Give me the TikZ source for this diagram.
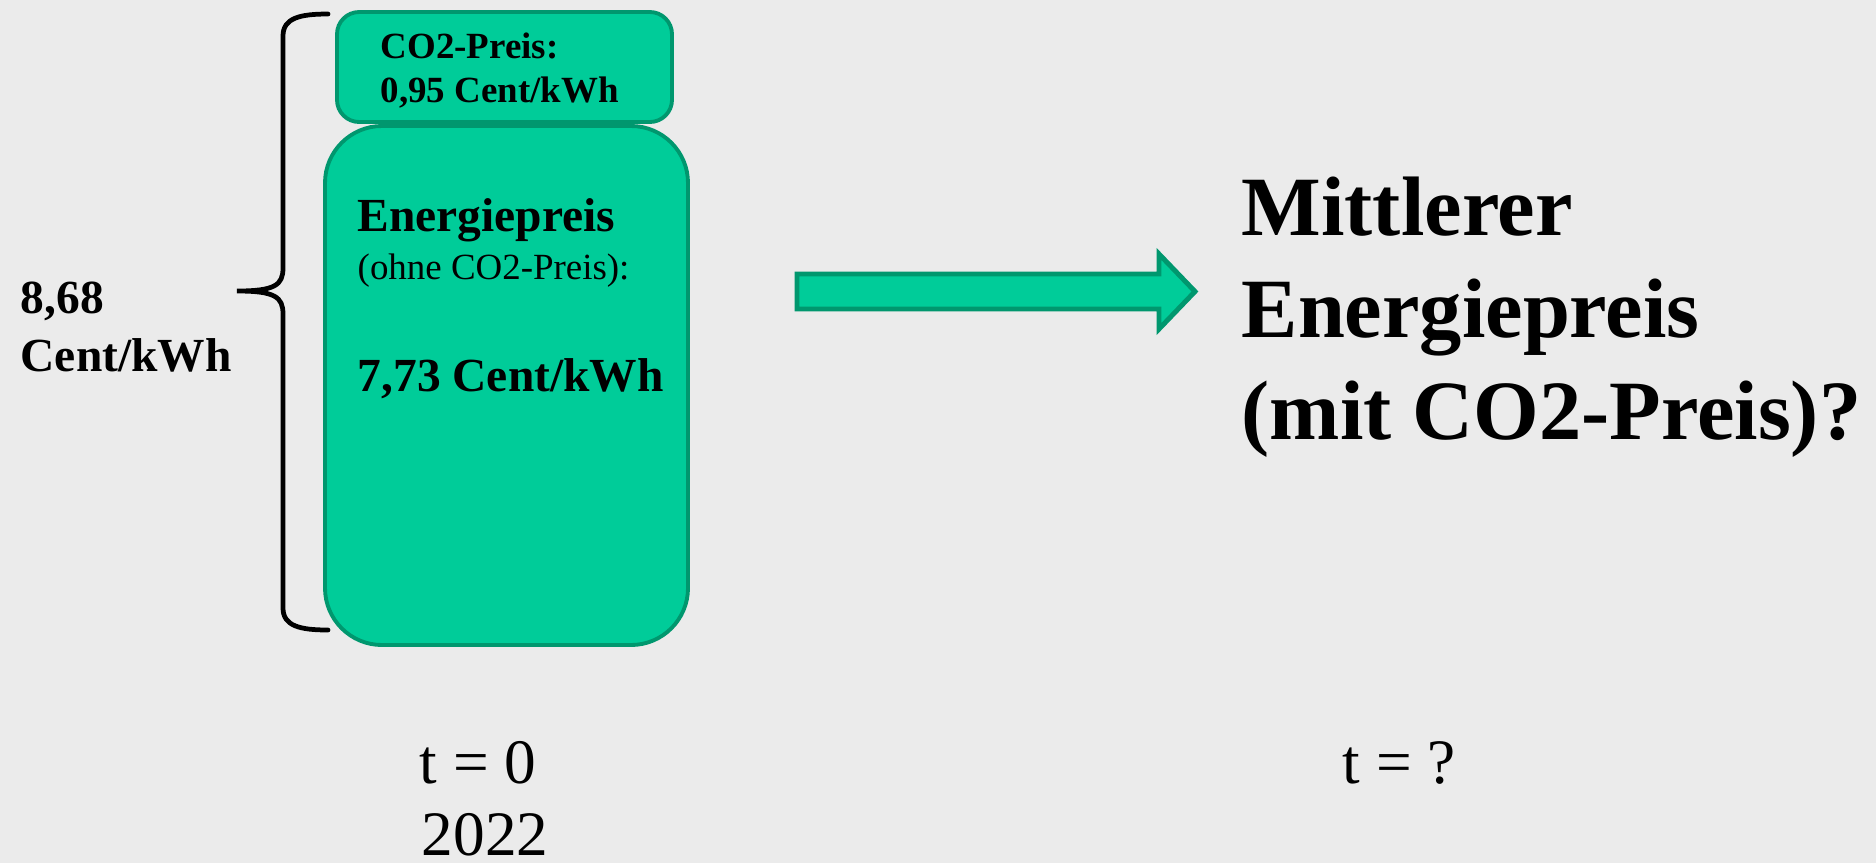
\documentclass[tikz,border=0pt]{standalone}
\usepackage{fontspec}
\setmainfont{Liberation Serif}
\definecolor{hintergrund}{HTML}{EBEBEB}
\definecolor{gruen}{HTML}{00CC99}
\definecolor{gruenrand}{HTML}{00976E}
\tikzset{
  kasten/.style={fill=gruen, draw=gruenrand, line width=1.1pt},
  pfeil/.style={fill=gruen, draw=gruenrand, line width=1.4pt, line join=miter},
  klammer/.style={draw=black, line width=1.35pt, line cap=round},
  txt/.style={anchor=base west, inner sep=0pt, text=black},
  klein/.style={txt, font=\fontsize{10.5}{12.5}\selectfont\bfseries},
  kleinr/.style={txt, font=\fontsize{10.5}{12.5}\selectfont},
  mittel/.style={txt, font=\fontsize{13.5}{16}\selectfont\bfseries},
  gross/.style={txt, font=\fontsize{24}{29}\selectfont\bfseries},
  zeit/.style={txt, font=\fontsize{18}{21}\selectfont},
}
\begin{document}
\begin{tikzpicture}[x=0.01cm, y=-0.01cm]
  \fill[hintergrund] (0,0) rectangle (1876,863);
  \useasboundingbox (0,0) rectangle (1876,863);
  % Kaesten
  \draw[kasten, rounded corners=6.3pt] (337,12) rectangle (672,122);
  \draw[kasten, rounded corners=16.2pt] (325,126) rectangle (688,645);
  % Klammer
  \draw[klammer] (328,14) .. controls (300,14) and (283,18) .. (283,36)
    -- (283,268) .. controls (283,285) and (275,291) .. (237,291)
    .. controls (275,291) and (283,297) .. (283,314)
    -- (283,608) .. controls (283,626) and (300,630) .. (328,630);
  % Pfeil
  \draw[pfeil] (797,274) -- (1159,274) -- (1159,254) -- (1195,291.5)
    -- (1159,329) -- (1159,309) -- (797,309) -- cycle;
  % Texte
  \node[mittel] (summe1) at (20,313) {8,68};
  \node[mittel] (summe2) at (20,371) {Cent/kWh};
  \node[klein] (co2a) at (380,58) {CO2-Preis:};
  \node[klein] (co2b) at (380,102) {0,95 Cent/kWh};
  \node[mittel] (ep1) at (357,231) {Energiepreis};
  \node[kleinr] (ep2) at (357,279) {(ohne CO2-Preis):};
  \node[mittel] (ep3) at (357,391) {7,73 Cent/kWh};
  \node[gross] (frage1) at (1241,235) {Mittlerer};
  \node[gross] (frage2) at (1241,337) {Energiepreis};
  \node[gross] (frage3) at (1241,439) {(mit CO2-Preis)?};
  \node[zeit] (t0) at (419,783) {t = 0};
  \node[zeit, text depth=0pt] (jahr) at (421,855) {2022};
  \node[zeit] (tx) at (1342,783) {t = ?};
\end{tikzpicture}
\end{document}
